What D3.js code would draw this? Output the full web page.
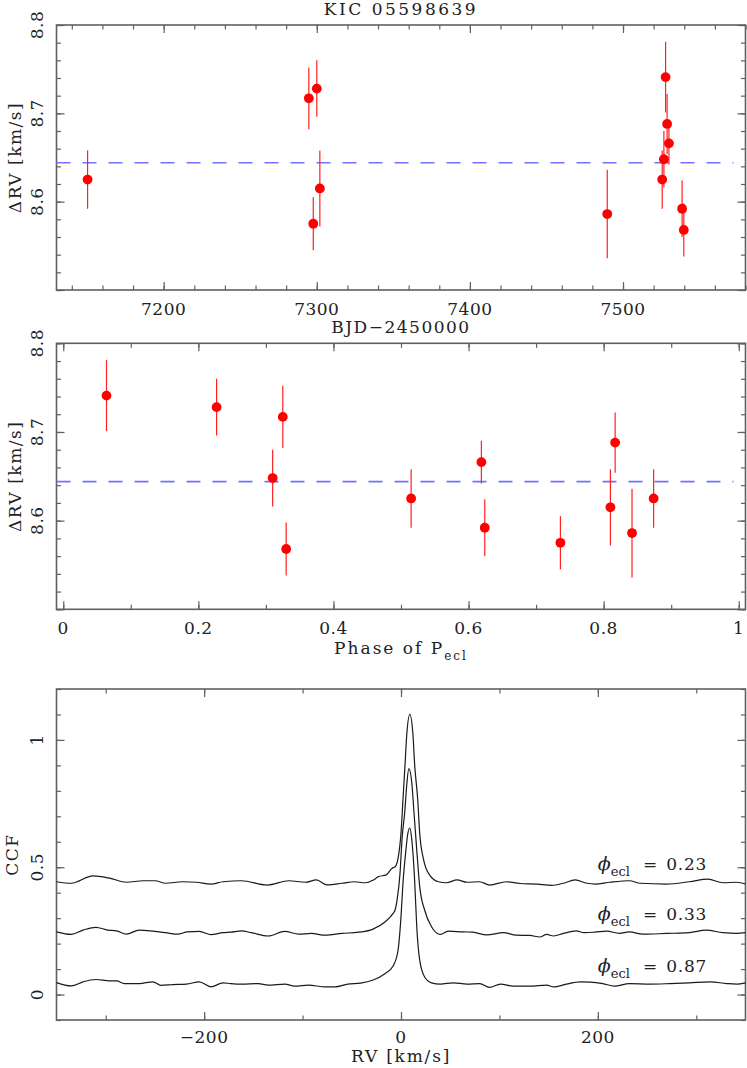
<!DOCTYPE html>
<html>
<head>
<meta charset="utf-8">
<script src="https://cdn.jsdelivr.net/npm/d3@7"></script>
<style>
  body { margin: 0; background: #fff; }
  svg text { font-family: "DejaVu Serif", serif; fill: #222; font-size: 17px; }
</style>
</head>
<body>
<svg id="chart" width="747" height="1068"></svg>
<script>
// RV measurements (same 13 spectra, shown vs. time and vs. phase)
const bjd = [7150.3, 7294.8, 7297.7, 7300.0, 7302.0, 7489.7, 7525.6, 7526.7, 7527.8, 7528.8, 7530.0, 7538.6, 7539.7];
const phase = [0.515, 0.325, 0.736, 0.227, 0.81, 0.842, 0.874, 0.31, 0.064, 0.817, 0.619, 0.624, 0.33];
const rv = [8.625, 8.717, 8.575, 8.728, 8.615, 8.586, 8.625, 8.648, 8.741, 8.688, 8.666, 8.592, 8.568];
const rvErr = [0.033, 0.035, 0.030, 0.032, 0.043, 0.05, 0.033, 0.032, 0.040, 0.034, 0.024, 0.032, 0.030];
const meanRV = 8.644;

// CCF profiles [RV km/s, CCF]
const ccf023 = [[-350,0.443],[-335,0.437],[-313,0.466],[-296,0.457],[-279,0.441],[-262,0.447],[-250,0.447],[-239,0.437],
  [-222,0.443],[-208,0.441],[-193,0.434],[-181,0.443],[-162,0.447],[-136,0.430],[-114,0.447],[-97,0.441],[-86,0.450],
  [-75,0.431],[-60,0.437],[-47,0.443],[-37,0.439],[-28,0.450],[-23,0.463],[-15,0.470],[-9,0.496],[-6,0.502],[-3,0.535],
  [0,0.634],[2,0.765],[4,0.896],[6,1.028],[9,1.10],[12,1.028],[14,0.896],[17,0.765],[19,0.634],[23,0.529],[29,0.470],
  [38,0.443],[46,0.439],[57,0.450],[67,0.441],[80,0.443],[90,0.430],[107,0.443],[121,0.436],[138,0.434],[153,0.429],
  [165,0.437],[177,0.450],[189,0.437],[197,0.434],[212,0.441],[232,0.447],[243,0.437],[270,0.434],[293,0.443],
  [312,0.453],[327,0.439],[341,0.441],[350,0.434]];
const ccf033 = [[-350,0.246],[-335,0.236],[-323,0.253],[-310,0.264],[-298,0.253],[-289,0.250],[-279,0.237],[-266,0.253],
  [-252,0.249],[-239,0.243],[-227,0.237],[-217,0.246],[-205,0.248],[-193,0.235],[-181,0.243],[-173,0.245],[-162,0.250],
  [-152,0.243],[-135,0.230],[-118,0.248],[-104,0.237],[-91,0.240],[-77,0.233],[-60,0.240],[-43,0.245],[-29,0.256],
  [-16,0.286],[-8,0.319],[-6,0.332],[-4,0.371],[-1,0.476],[1,0.607],[4,0.726],[6,0.831],[8,0.887],[11,0.831],[13,0.726],
  [16,0.568],[19,0.424],[24,0.332],[31,0.266],[40,0.236],[48,0.249],[63,0.246],[73,0.245],[87,0.234],[104,0.243],
  [117,0.233],[131,0.232],[141,0.226],[148,0.236],[155,0.230],[165,0.240],[178,0.250],[186,0.243],[197,0.245],
  [209,0.249],[222,0.240],[232,0.246],[246,0.237],[270,0.240],[293,0.243],[310,0.253],[327,0.243],[341,0.240],[350,0.243]];
const ccf087 = [[-350,0.047],[-335,0.034],[-323,0.050],[-310,0.059],[-296,0.054],[-289,0.054],[-281,0.043],[-266,0.043],
  [-252,0.050],[-244,0.036],[-232,0.039],[-218,0.041],[-205,0.050],[-193,0.030],[-181,0.046],[-173,0.043],[-162,0.041],
  [-145,0.043],[-135,0.037],[-118,0.041],[-108,0.033],[-94,0.037],[-77,0.030],[-67,0.030],[-54,0.041],[-41,0.045],
  [-29,0.056],[-16,0.083],[-8,0.112],[-3,0.174],[0,0.306],[2,0.437],[5,0.568],[7,0.634],[9,0.654],[11,0.607],[14,0.437],
  [16,0.266],[19,0.135],[24,0.069],[31,0.046],[40,0.041],[53,0.046],[67,0.041],[80,0.043],[90,0.028],[101,0.041],
  [114,0.033],[131,0.033],[148,0.037],[155,0.030],[168,0.041],[182,0.050],[192,0.049],[205,0.043],[217,0.033],
  [232,0.043],[253,0.041],[273,0.043],[293,0.046],[314,0.050],[331,0.043],[341,0.041],[350,0.046]];
const ccfSeries = [ccf023, ccf033, ccf087];
const ccfPhases = ["0.23", "0.33", "0.87"];

// tick labels
const bjdLabels = [7200, 7300, 7400, 7500];
const rvLabels = [8.6, 8.7, 8.8];
const phaseLabels = [0, 0.2, 0.4, 0.6, 0.8, 1];
const velLabels = [-200, 0, 200];
const ccfLabels = [0, 0.5, 1];

const svg = d3.select("#chart");
const frameColor = "#606060";
const left = 56.5, right = 745.5;

const xT = d3.scaleLinear().domain([7130, 7580]).range([left, right]);
const yT = d3.scaleLinear().domain([8.5, 8.8]).range([290, 25]);
const xP = d3.scaleLinear().domain([-0.01, 1.01]).range([left, right]);
const yP = d3.scaleLinear().domain([8.5, 8.8]).range([609.3, 343.3]);
const xC = d3.scaleLinear().domain([-350, 350]).range([left, right]);
const yC = d3.scaleLinear().domain([-0.1, 1.2]).range([1020, 689]);

function frame(x, y, xt, yt) {
  const g = svg.append("g");
  const [x0, x1] = x.range(), [y0, y1] = y.range();
  const sides = [
    [d3.axisBottom(x), `translate(0,${y0})`, xt],
    [d3.axisTop(x), `translate(0,${y1})`, xt],
    [d3.axisLeft(y), `translate(${x0},0)`, yt],
    [d3.axisRight(y), `translate(${x1},0)`, yt],
  ];
  sides.forEach(([axis, tr, t]) => {
    [[t.minor, 4.5], [t.major, 8]].forEach(([vals, len]) => {
      g.append("g")
        .attr("transform", tr)
        .call(axis.tickValues(vals).tickSize(-len).tickFormat(""))
        .call((s) => s.select(".domain").remove());
    });
  });
  g.selectAll(".tick line").attr("stroke", frameColor).attr("stroke-width", 1.2);
  g.selectAll(".tick text").remove();
  g.append("rect")
    .attr("x", x0).attr("y", y1)
    .attr("width", x1 - x0).attr("height", y0 - y1)
    .attr("fill", "none").attr("stroke", frameColor).attr("stroke-width", 1.6);
}

function xLabels(x, vals, baseline, fmt) {
  svg.append("g").selectAll("text").data(vals).join("text")
    .attr("x", (d) => x(d)).attr("y", baseline)
    .attr("text-anchor", "middle")
    .style("letter-spacing", "0.5px")
    .text(fmt);
}

function yLabels(y, vals, fmt) {
  svg.append("g").selectAll("text").data(vals).join("text")
    .attr("transform", (d) => `translate(43,${y(d)}) rotate(-90)`)
    .attr("text-anchor", "middle")
    .style("letter-spacing", "0.5px")
    .text(fmt);
}

function yTitle(y, baselineX, label) {
  const [b, t] = y.range();
  svg.append("text")
    .attr("transform", `translate(${baselineX},${(b + t) / 2}) rotate(-90)`)
    .attr("text-anchor", "middle")
    .style("letter-spacing", "1.5px")
    .text(label);
}

const rvTicks = { major: d3.range(8.5, 8.81, 0.1), minor: d3.range(8.5, 8.81, 0.02) };

function rvPoints(x, y, xv) {
  const g = svg.append("g");
  g.append("line")
    .attr("x1", x.range()[0]).attr("x2", x.range()[1] - 12)
    .attr("y1", y(meanRV)).attr("y2", y(meanRV))
    .attr("stroke", "#7272ff").attr("stroke-width", 1.6)
    .attr("stroke-dasharray", "14,12");
  g.selectAll("line.err").data(rv).join("line")
    .attr("class", "err")
    .attr("x1", (d, i) => x(xv[i])).attr("x2", (d, i) => x(xv[i]))
    .attr("y1", (d, i) => y(d - rvErr[i])).attr("y2", (d, i) => y(d + rvErr[i]))
    .attr("stroke", "#ff2020").attr("stroke-width", 1.2);
  g.selectAll("circle").data(rv).join("circle")
    .attr("cx", (d, i) => x(xv[i])).attr("cy", (d) => y(d))
    .attr("r", 4.9).attr("fill", "#ff0000");
}

// ---- panel 1: RV vs BJD
frame(xT, yT, { major: d3.range(7200, 7501, 100), minor: d3.range(7140, 7581, 20) }, rvTicks);
rvPoints(xT, yT, bjd);
xLabels(xT, bjdLabels, 315, (d) => d);
yLabels(yT, rvLabels, (d) => d.toFixed(1));
svg.append("text").attr("x", 401).attr("y", 15).attr("text-anchor", "middle")
  .style("letter-spacing", "2.5px").text("KIC 05598639");
svg.append("text").attr("x", 401).attr("y", 333).attr("text-anchor", "middle")
  .style("letter-spacing", "1.5px").text("BJD\u22122450000");
yTitle(yT, 21, "\u0394RV [km/s]");

// ---- panel 2: RV vs phase
frame(xP, yP, { major: d3.range(0, 1.01, 0.2), minor: d3.range(0, 1.01, 0.1) }, rvTicks);
rvPoints(xP, yP, phase);
xLabels(xP, phaseLabels, 634, (d) => d);
yLabels(yP, rvLabels, (d) => d.toFixed(1));
yTitle(yP, 21, "\u0394RV [km/s]");
{
  const t = svg.append("text").attr("x", 401).attr("y", 654).attr("text-anchor", "middle")
    .style("letter-spacing", "2px");
  t.append("tspan").text("Phase of P");
  t.append("tspan").attr("dy", 6).style("font-size", "12px").text("ecl");
}

// ---- panel 3: CCFs
frame(xC, yC, { major: d3.range(-200, 201, 200), minor: d3.range(-300, 301, 100) },
  { major: d3.range(0, 1.01, 0.5), minor: d3.range(-0.1, 1.21, 0.1) });
const line = d3.line().curve(d3.curveMonotoneX).x((d) => xC(d[0])).y((d) => yC(d[1]));
svg.append("g").selectAll("path").data(ccfSeries).join("path")
  .attr("d", line).attr("fill", "none").attr("stroke", "#1a1a1a").attr("stroke-width", 1.2);
ccfSeries.forEach((s, i) => {
  const t = svg.append("text")
    .attr("x", xC(200))
    .attr("y", yC(d3.median(s, (d) => d[1])) - 12);
  t.append("tspan").style("font-style", "italic").style("font-size", "19px").text("\u03d5");
  t.append("tspan").attr("dy", 6).style("font-size", "13px").text("ecl");
  t.append("tspan").attr("dy", -6).attr("dx", 13).text("=");
  t.append("tspan").attr("dx", 9).style("letter-spacing", "0.8px").text(ccfPhases[i]);
});
xLabels(xC, velLabels, 1043, (d) => (d < 0 ? "\u2212" + Math.abs(d) : d));
yLabels(yC, ccfLabels, (d) => d);
yTitle(yC, 18, "CCF");
svg.append("text").attr("x", 401).attr("y", 1062).attr("text-anchor", "middle")
  .style("letter-spacing", "1.8px").text("RV [km/s]");
</script>
</body>
</html>
